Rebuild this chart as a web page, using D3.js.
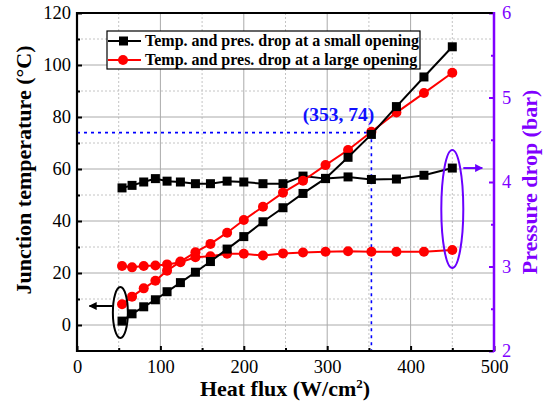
<!DOCTYPE html>
<html>
<head>
<meta charset="utf-8">
<script src="https://cdn.jsdelivr.net/npm/d3@7"></script>
<style>
  body { margin: 0; background: #fff; }
  svg text { font-family: "Liberation Serif", "Times New Roman", serif; }
</style>
</head>
<body>
<svg id="chart" width="543" height="405"></svg>
<script>
// Heat flux (W/cm2) for every measured point
var heatFlux = [54, 66, 80, 94, 108, 124, 142, 160, 180, 200, 223, 247, 271, 298, 325, 353, 383, 416, 450];

// Junction temperature (C)
var tempSmall = [1.5, 4.3, 7.0, 9.7, 12.8, 16.3, 20.3, 24.4, 29.2, 34.0, 39.7, 45.1, 50.6, 56.4, 64.5, 73.3, 84.0, 95.4, 107.0];
var tempLarge = [8.0, 10.9, 14.1, 17.0, 20.9, 24.4, 28.0, 31.2, 35.5, 40.4, 45.5, 50.9, 55.5, 61.5, 67.3, 74.3, 81.7, 89.2, 97.0];

// Pressure drop (bar)
var presSmall = [3.93, 3.96, 4.00, 4.04, 4.01, 4.00, 3.98, 3.98, 4.01, 4.00, 3.98, 3.98, 4.07, 4.04, 4.06, 4.03, 4.035, 4.08, 4.165];
var presLarge = [3.006, 2.99, 3.006, 3.012, 3.025, 3.05, 3.11, 3.12, 3.15, 3.15, 3.13, 3.155, 3.165, 3.175, 3.18, 3.175, 3.175, 3.175, 3.195];

var seriesNames = ["Temp. and pres. drop at a small opening", "Temp. and pres. drop at a large opening"];
var xTicks = [0, 100, 200, 300, 400, 500];
var yLeftTicks = [0, 20, 40, 60, 80, 100, 120];
var yRightTicks = [2, 3, 4, 5, 6];
var crossPoint = [353, 74];

var purple = "#8000ff";
var serif = "'Liberation Serif', 'Times New Roman', serif";
var svg = d3.select("#chart");
var pLeft = 77, pRight = 494, pTop = 13, pBottom = 351;

var x = d3.scaleLinear().domain([0, 500]).range([pLeft, pRight]);
var yL = d3.scaleLinear().domain([-10, 120]).range([pBottom, pTop]);
var yR = d3.scaleLinear().domain([2, 6]).range([pBottom, pTop]);

// Grid: solid at major ticks, dotted at the halves
var minorX = d3.range(50, 500, 100);
var minorY = d3.range(10, 120, 20);
var grid = svg.append("g");
grid.selectAll(".gx").data(xTicks.slice(1, -1)).enter().append("line")
    .attr("x1", x).attr("x2", x).attr("y1", pTop).attr("y2", pBottom)
    .attr("stroke", "#aaaaaa").attr("stroke-width", 1);
grid.selectAll(".gxm").data(minorX).enter().append("line")
    .attr("x1", x).attr("x2", x).attr("y1", pTop).attr("y2", pBottom)
    .attr("stroke", "#c4c4c4").attr("stroke-width", 1).attr("stroke-dasharray", "2,2");
grid.selectAll(".gy").data(yLeftTicks.slice(0, -1)).enter().append("line")
    .attr("y1", yL).attr("y2", yL).attr("x1", pLeft).attr("x2", pRight)
    .attr("stroke", "#aaaaaa").attr("stroke-width", 1);
grid.selectAll(".gym").data(minorY).enter().append("line")
    .attr("y1", yL).attr("y2", yL).attr("x1", pLeft).attr("x2", pRight)
    .attr("stroke", "#c4c4c4").attr("stroke-width", 1).attr("stroke-dasharray", "2,2");

// Crossing point guide lines
svg.append("path")
    .attr("d", "M" + pLeft + "," + yL(crossPoint[1]) + "H" + x(crossPoint[0]) + "V" + pBottom)
    .attr("fill", "none").attr("stroke", "#0000ff").attr("stroke-width", 1.6)
    .attr("stroke-dasharray", "3,4");
svg.append("text").attr("x", x(crossPoint[0]) - 33).attr("y", yL(crossPoint[1]) - 12)
    .attr("text-anchor", "middle").attr("font-size", 19.5).attr("font-weight", "bold")
    .style("font-family", serif)
    .attr("fill", "#1010ff").text("(" + crossPoint[0] + ", " + crossPoint[1] + ")");

// Series
function drawSeries (yScale, values, color, shape) {
    var pts = heatFlux.map(function (h, i) { return [x(h), yScale(values[i])]; });
    svg.append("path").attr("d", d3.line()(pts))
        .attr("fill", "none").attr("stroke", color).attr("stroke-width", 2);
    var g = svg.append("g");
    if (shape === "square") {
        g.selectAll("rect").data(pts).enter().append("rect")
            .attr("x", function (d) { return d[0] - 4.5; }).attr("y", function (d) { return d[1] - 4.5; })
            .attr("width", 9).attr("height", 9).attr("fill", color);
    } else {
        g.selectAll("circle").data(pts).enter().append("circle")
            .attr("cx", function (d) { return d[0]; }).attr("cy", function (d) { return d[1]; })
            .attr("r", 5).attr("fill", color);
    }
}
drawSeries(yR, presLarge, "#ff0000", "circle");
drawSeries(yR, presSmall, "#000000", "square");
drawSeries(yL, tempLarge, "#ff0000", "circle");
drawSeries(yL, tempSmall, "#000000", "square");

// Ellipses and arrows marking which axis each group belongs to
var defs = svg.append("defs");
function arrowHead (id, color) {
    defs.append("marker").attr("id", id).attr("viewBox", "0 0 10 10")
        .attr("refX", 9).attr("refY", 5).attr("markerWidth", 4).attr("markerHeight", 4)
        .attr("orient", "auto-start-reverse")
        .append("path").attr("d", "M0,0L10,5L0,10z").attr("fill", color);
}
arrowHead("arrBlack", "#000");
arrowHead("arrPurple", "#6a00ff");

svg.append("ellipse").attr("cx", x(52)).attr("cy", yL(4.8)).attr("rx", 7.5).attr("ry", 25.5)
    .attr("fill", "none").attr("stroke", "#000").attr("stroke-width", 2);
svg.append("line").attr("x1", x(52) - 7.5).attr("x2", x(15)).attr("y1", yL(7.3)).attr("y2", yL(7.3))
    .attr("stroke", "#000").attr("stroke-width", 2).attr("marker-end", "url(#arrBlack)");

svg.append("ellipse").attr("cx", x(450)).attr("cy", yR(3.68)).attr("rx", 11).attr("ry", 59)
    .attr("fill", "none").attr("stroke", "#6a00ff").attr("stroke-width", 2);
svg.append("line").attr("x1", x(450) + 11).attr("x2", x(486)).attr("y1", yR(4.165)).attr("y2", yR(4.165))
    .attr("stroke", "#6a00ff").attr("stroke-width", 2).attr("marker-end", "url(#arrPurple)");

// Axes
svg.append("g").attr("transform", "translate(0," + pBottom + ")")
    .call(d3.axisBottom(x).tickValues(xTicks).tickSize(-5).tickPadding(9));
svg.append("g").attr("transform", "translate(0," + pBottom + ")")
    .call(d3.axisBottom(x).tickValues(minorX).tickSize(-3).tickFormat(""));
svg.append("g").attr("transform", "translate(" + pLeft + ",0)")
    .call(d3.axisLeft(yL).tickValues(yLeftTicks).tickSize(-5).tickPadding(6));
svg.append("g").attr("transform", "translate(" + pLeft + ",0)")
    .call(d3.axisLeft(yL).tickValues(minorY).tickSize(-3).tickFormat(""));
svg.append("g").attr("class", "right-axis").attr("transform", "translate(" + pRight + ",0)")
    .call(d3.axisRight(yR).tickValues(yRightTicks).tickSize(-5).tickPadding(8).tickFormat(d3.format("d")));
svg.append("g").attr("class", "right-axis").attr("transform", "translate(" + pRight + ",0)")
    .call(d3.axisRight(yR).tickValues([2.5, 3.5, 4.5, 5.5]).tickSize(-3).tickFormat(""));

svg.selectAll(".domain").remove();
svg.selectAll(".tick line").attr("stroke-width", 2);
svg.selectAll(".tick text").attr("font-size", 18.5).style("font-family", serif).attr("fill", "#000");
svg.selectAll(".right-axis .tick text").attr("fill", purple);
svg.selectAll(".right-axis .tick line").attr("stroke", purple);

// Frame
svg.append("path").attr("d", "M" + pRight + "," + pTop + "H" + pLeft + "V" + pBottom + "H" + pRight)
    .attr("fill", "none").attr("stroke", "#000").attr("stroke-width", 2.2);
svg.append("line").attr("x1", pRight).attr("x2", pRight).attr("y1", pTop - 1).attr("y2", pBottom + 1)
    .attr("stroke", purple).attr("stroke-width", 2.5);

// Axis titles
svg.append("text").attr("x", 285).attr("y", 396).attr("text-anchor", "middle")
    .attr("font-size", 22).attr("font-weight", "bold").style("font-family", serif)
    .html("Heat flux (W/cm<tspan dy='-8' font-size='13'>2</tspan><tspan dy='8'>)</tspan>");
svg.append("text").attr("transform", "translate(31,170) rotate(-90)")
    .attr("text-anchor", "middle").attr("font-size", 22).attr("font-weight", "bold")
    .style("font-family", serif).text("Junction temperature (°C)");
svg.append("text").attr("transform", "translate(537,182) rotate(-90)")
    .attr("text-anchor", "middle").attr("font-size", 22).attr("font-weight", "bold")
    .style("font-family", serif).attr("fill", purple).text("Pressure drop (bar)");

// Legend
var legend = svg.append("g").attr("transform", "translate(107,31)");
legend.append("rect").attr("width", 313).attr("height", 38)
    .attr("fill", "#fff").attr("stroke", "#000").attr("stroke-width", 1.2);
var legendColors = ["#000000", "#ff0000"];
seriesNames.forEach(function (name, i) {
    var cy = 10 + i * 19;
    legend.append("line").attr("x1", 1).attr("x2", 34).attr("y1", cy).attr("y2", cy)
        .attr("stroke", legendColors[i]).attr("stroke-width", 2);
    if (i === 0) {
        legend.append("rect").attr("x", 12).attr("y", cy - 4.5).attr("width", 9).attr("height", 9).attr("fill", legendColors[i]);
    } else {
        legend.append("circle").attr("cx", 16).attr("cy", cy).attr("r", 5).attr("fill", legendColors[i]);
    }
    legend.append("text").attr("x", 38).attr("y", cy + 5).attr("font-size", 16).attr("font-weight", "bold")
        .style("font-family", serif).text(name);
});
</script>
</body>
</html>
